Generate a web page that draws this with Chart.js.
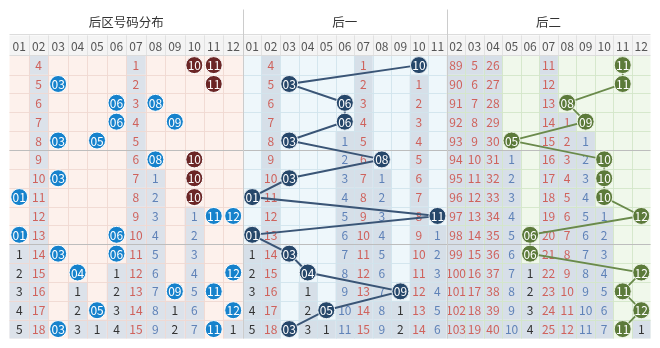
<!DOCTYPE html>
<html>
<head>
<meta charset="utf-8">
<script src="https://cdn.jsdelivr.net/npm/chart.js@4.4.1/dist/chart.umd.min.js"></script>
<style>
html, body { margin: 0; padding: 0; background: #fff; }
canvas { display: block; }
</style>
</head>
<body>
<canvas id="trend" width="660" height="348"></canvas>
<script>
// 标题和列号
const titles = ['后区号码分布', '后一', '后二'];
const labels1 = ['01', '02', '03', '04', '05', '06', '07', '08', '09', '10', '11', '12'];
const labels2 = ['01', '02', '03', '04', '05', '06', '07', '08', '09', '10', '11'];
const labels3 = ['02', '03', '04', '05', '06', '07', '08', '09', '10', '11', '12'];

// 每行: "." 空格, 数字 = 遗漏值, "#nn" = 开奖号码球, "*nn" = 深红球
const rows1 = [
    '. 4 . . . . 1 . . *10 *11 .',
    '. 5 #03 . . . 2 . . . *11 .',
    '. 6 . . . #06 3 #08 . . . .',
    '. 7 . . . #06 4 . #09 . . .',
    '. 8 #03 . #05 . 5 . . . . .',
    '. 9 . . . . 6 #08 . *10 . .',
    '. 10 #03 . . . 7 1 . *10 . .',
    '#01 11 . . . . 8 2 . *10 . .',
    '. 12 . . . . 9 3 . 1 #11 #12',
    '#01 13 . . . #06 10 4 . 2 . .',
    '1 14 #03 . . #06 11 5 . 3 . .',
    '2 15 . #04 . 1 12 6 . 4 . #12',
    '3 16 . 1 . 2 13 7 #09 5 #11 .',
    '4 17 . 2 #05 3 14 8 1 6 . #12',
    '5 18 #03 3 1 4 15 9 2 7 #11 1'
];
const rows2 = [
    '. 4 . . . . 1 . . #10 .',
    '. 5 #03 . . . 2 . . 1 .',
    '. 6 . . . #06 3 . . 2 .',
    '. 7 . . . #06 4 . . 3 .',
    '. 8 #03 . . 1 5 . . 4 .',
    '. 9 . . . 2 6 #08 . 5 .',
    '. 10 #03 . . 3 7 1 . 6 .',
    '#01 11 . . . 4 8 2 . 7 .',
    '. 12 . . . 5 9 3 . 8 #11',
    '#01 13 . . . 6 10 4 . 9 1',
    '1 14 #03 . . 7 11 5 . 10 2',
    '2 15 . #04 . 8 12 6 . 11 3',
    '3 16 . 1 . 9 13 7 #09 12 4',
    '4 17 . 2 #05 10 14 8 1 13 5',
    '5 18 #03 3 1 11 15 9 2 14 6'
];
const rows3 = [
    '89 5 26 . . 11 . . . #11 .',
    '90 6 27 . . 12 . . . #11 .',
    '91 7 28 . . 13 #08 . . . .',
    '92 8 29 . . 14 1 #09 . . .',
    '93 9 30 #05 . 15 2 1 . . .',
    '94 10 31 1 . 16 3 2 #10 . .',
    '95 11 32 2 . 17 4 3 #10 . .',
    '96 12 33 3 . 18 5 4 #10 . .',
    '97 13 34 4 . 19 6 5 1 . #12',
    '98 14 35 5 #06 20 7 6 2 . .',
    '99 15 36 6 #06 21 8 7 3 . .',
    '100 16 37 7 1 22 9 8 4 . #12',
    '101 17 38 8 2 23 10 9 5 #11 .',
    '102 18 39 9 3 24 11 10 6 . #12',
    '103 19 40 10 4 25 12 11 7 #11 1'
];

// 遗漏值颜色 (每列): r 红, b 蓝, k 黑
const tone1 = 'k r k k k k r b k b k k';
const tone2 = 'k r k k k b r b k r b';
const tone3 = 'r r r b k r r b b k k';

// 版面 (刻度单位)
const X_MAX = 34.6, Y_MAX = 17.45, HEAD1 = 1.375, HEAD2 = 2.45;
const layout = [
    { start: 0, unit: 1.05, bg: '#fdf1ec', grid: '#f0d8d1', shade: '#dce2ea' },
    { start: 12.6, unit: 1, bg: '#eef7fb', grid: '#d0e3ec', shade: '#d6dfe8' },
    { start: 23.6, unit: 1, bg: '#f0f8eb', grid: '#d3e6c9', shade: '#d7dfe8' }
];
const ballColor = ['#1682cc', '#26476a', '#5c7a3a'];
const maroon = '#6b2626';
const toneColor = { r: '#cf625c', b: '#5f82b8', k: '#333333' };

const sections = [
    { title: titles[0], labels: labels1, rows: rows1.map(r => r.split(' ')), tone: tone1.split(' ') },
    { title: titles[1], labels: labels2, rows: rows2.map(r => r.split(' ')), tone: tone2.split(' ') },
    { title: titles[2], labels: labels3, rows: rows3.map(r => r.split(' ')), tone: tone3.split(' ') }
];

function isBall(t) {
    return t[0] === '#' || t[0] === '*';
}

// 取出每个区的号码球
function ballsOf(si) {
    const lay = layout[si];
    const pts = [];
    sections[si].rows.forEach((cells, r) => {
        cells.forEach((t, c) => {
            if (isBall(t)) {
                pts.push({ x: lay.start + (c + 0.5) * lay.unit, y: HEAD2 + r + 0.5, n: t.slice(1), hot: t[0] === '*' });
            }
        });
    });
    return pts;
}

const balls1 = ballsOf(0);
const balls2 = ballsOf(1);
const balls3 = ballsOf(2);

const FONT = '"Noto Sans CJK SC", "Noto Sans", sans-serif';

// 画背景、表头、格线和遗漏值
const gridPlugin = {
    id: 'grid',
    beforeDatasetsDraw(chart) {
        const ctx = chart.ctx;
        const X = chart.scales.x, Y = chart.scales.y;
        const px = v => X.getPixelForValue(v);
        const py = v => Y.getPixelForValue(v);
        const nRows = rows1.length;
        ctx.save();

        sections.forEach((sec, si) => {
            const lay = layout[si];
            const n = sec.labels.length;
            const x0 = px(lay.start), x1 = px(lay.start + n * lay.unit);

            // 表头
            ctx.fillStyle = '#ffffff';
            ctx.fillRect(x0, py(0), x1 - x0, py(HEAD1) - py(0));
            ctx.fillStyle = '#f4f4f4';
            ctx.fillRect(x0, py(HEAD1), x1 - x0, py(HEAD2) - py(HEAD1));
            ctx.fillStyle = '#333';
            ctx.font = '12.5px ' + FONT;
            ctx.textAlign = 'center';
            ctx.textBaseline = 'middle';
            ctx.fillText(sec.title, (x0 + x1) / 2, py(HEAD1 / 2));

            ctx.font = '12px ' + FONT;
            ctx.fillStyle = '#555';
            sec.labels.forEach((lb, c) => {
                ctx.fillText(lb, px(lay.start + (c + 0.5) * lay.unit), py((HEAD1 + HEAD2) / 2) + 0.5);
            });
            ctx.strokeStyle = '#e2e2e2';
            ctx.lineWidth = 1;
            for (let c = 1; c < n; c++) {
                const x = Math.round(px(lay.start + c * lay.unit)) + 0.5;
                ctx.beginPath();
                ctx.moveTo(x, py(HEAD1));
                ctx.lineTo(x, py(HEAD2));
                ctx.stroke();
            }

            // 数据区底色
            ctx.fillStyle = lay.bg;
            ctx.fillRect(x0, py(HEAD2), x1 - x0, py(HEAD2 + nRows) - py(HEAD2));

            // 遗漏格
            sec.rows.forEach((cells, r) => {
                cells.forEach((t, c) => {
                    if (t !== '.' && !isBall(t)) {
                        const cx0 = px(lay.start + c * lay.unit), cx1 = px(lay.start + (c + 1) * lay.unit);
                        ctx.fillStyle = lay.shade;
                        ctx.fillRect(cx0, py(HEAD2 + r), cx1 - cx0, py(HEAD2 + r + 1) - py(HEAD2 + r));
                    }
                });
            });

            // 格线
            ctx.strokeStyle = lay.grid;
            ctx.globalAlpha = 0.9;
            for (let c = 1; c < n; c++) {
                const x = Math.round(px(lay.start + c * lay.unit)) + 0.5;
                ctx.beginPath();
                ctx.moveTo(x, py(HEAD2));
                ctx.lineTo(x, py(HEAD2 + nRows));
                ctx.stroke();
            }
            for (let r = 1; r < nRows; r++) {
                const y = Math.round(py(HEAD2 + r)) + 0.5;
                ctx.beginPath();
                ctx.moveTo(x0, y);
                ctx.lineTo(x1, y);
                ctx.stroke();
            }
            ctx.globalAlpha = 1;

            // 遗漏值
            ctx.font = '12px ' + FONT;
            sec.rows.forEach((cells, r) => {
                cells.forEach((t, c) => {
                    if (t !== '.' && !isBall(t)) {
                        ctx.fillStyle = toneColor[sec.tone[c]];
                        ctx.fillText(t, px(lay.start + (c + 0.5) * lay.unit), py(HEAD2 + r + 0.5) + 0.5);
                    }
                });
            });
        });

        // 分隔线
        ctx.lineWidth = 1;
        ctx.strokeStyle = '#dcdcdc';
        [HEAD1, HEAD2].forEach(v => {
            const y = Math.round(py(v)) - 0.5;
            ctx.beginPath();
            ctx.moveTo(px(0), y);
            ctx.lineTo(px(X_MAX), y);
            ctx.stroke();
        });
        ctx.strokeStyle = '#bdbdbd';
        [5, 10].forEach(r => {
            const y = Math.round(py(HEAD2 + r)) + 0.5;
            ctx.beginPath();
            ctx.moveTo(px(0), y);
            ctx.lineTo(px(X_MAX), y);
            ctx.stroke();
        });
        ctx.strokeStyle = '#cccccc';
        [layout[1].start, layout[2].start].forEach(v => {
            const x = Math.round(px(v)) + 0.5;
            ctx.beginPath();
            ctx.moveTo(x, py(0));
            ctx.lineTo(x, py(Y_MAX));
            ctx.stroke();
        });
        ctx.restore();
    }
};

// 号码球上的数字
const ballText = {
    id: 'ballText',
    afterDatasetsDraw(chart) {
        const ctx = chart.ctx;
        ctx.save();
        ctx.font = '12px ' + FONT;
        ctx.fillStyle = '#ffffff';
        ctx.textAlign = 'center';
        ctx.textBaseline = 'middle';
        chart.data.datasets.forEach((ds, i) => {
            chart.getDatasetMeta(i).data.forEach((el, j) => {
                ctx.fillText(ds.data[j].n, el.x, el.y + 0.5);
            });
        });
        ctx.restore();
    }
};

new Chart(document.getElementById('trend'), {
    type: 'scatter',
    data: {
        datasets: [
            {
                data: balls1,
                showLine: false,
                pointRadius: 8.5,
                pointBackgroundColor: balls1.map(p => p.hot ? maroon : ballColor[0]),
                pointBorderColor: '#ffffff',
                pointBorderWidth: 1
            },
            {
                data: balls2,
                showLine: true,
                borderColor: '#3a5576',
                borderWidth: 2,
                pointRadius: 8.5,
                pointBackgroundColor: ballColor[1],
                pointBorderColor: '#eaf0f5',
                pointBorderWidth: 1
            },
            {
                data: balls3,
                showLine: true,
                borderColor: '#6a8a4b',
                borderWidth: 1.8,
                pointRadius: 8.5,
                pointBackgroundColor: ballColor[2],
                pointBorderColor: '#eef5e8',
                pointBorderWidth: 1
            }
        ]
    },
    options: {
        responsive: false,
        animation: false,
        devicePixelRatio: 1,
        events: [],
        layout: { padding: 0 },
        elements: { line: { tension: 0 } },
        plugins: { legend: { display: false }, tooltip: { enabled: false } },
        scales: {
            x: { type: 'linear', display: false, min: 0, max: X_MAX },
            y: { type: 'linear', display: false, min: 0, max: Y_MAX, reverse: true }
        }
    },
    plugins: [gridPlugin, ballText]
});
</script>
</body>
</html>
